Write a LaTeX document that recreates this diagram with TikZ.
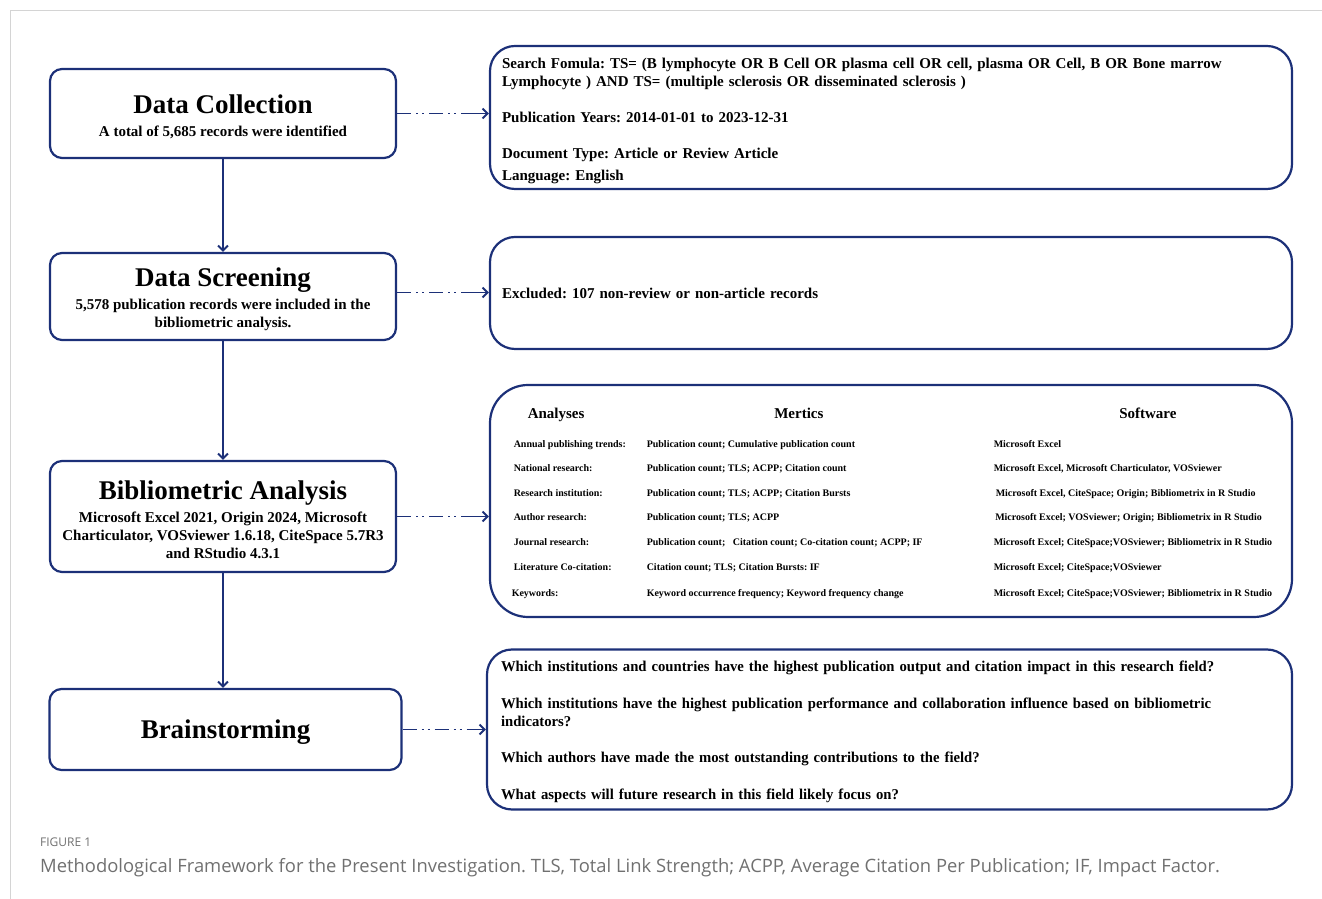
\documentclass[tikz,border=0pt]{standalone}
\usepackage{fontspec}
\usepackage{xcolor}
\usetikzlibrary{arrows.meta}
\setmainfont{Liberation Serif}
\newfontfamily\condfont{Liberation Serif}[FakeStretch=0.98]
\newfontfamily\capfont{Open Sans}
\definecolor{navy}{RGB}{28,48,120}
\definecolor{capgray}{RGB}{112,112,112}
\definecolor{framegray}{RGB}{212,212,212}
\newcommand{\stagetitle}[1]{{\fontsize{27}{28}\selectfont\rule{0pt}{24.5pt}#1}}
\frenchspacing

\begin{document}
\begin{tikzpicture}[x=1pt, y=1pt, node distance=200pt]
    % Define styles
    \tikzstyle{stage} = [rectangle, draw=navy, line width=2.2pt, rounded corners=12pt, minimum width=346pt, align=center, font=\fontsize{15}{18}\selectfont\bfseries]
    \tikzstyle{detail} = [rectangle, draw=navy, line width=2.2pt, rounded corners=25pt, minimum width=802pt, inner xsep=12pt, align=left, font=\fontsize{15}{18}\selectfont\bfseries]
    \tikzstyle{flow} = [line width=1.9pt, draw=navy, -{Straight Barb[length=5pt,width=10pt]}]
    \tikzstyle{link} = [line width=1.9pt, draw=navy, dash pattern=on 14pt off 5pt on 2pt off 4pt on 2pt off 5pt on 14pt off 5pt on 2pt off 4pt on 2pt off 5pt on 40pt off 1pt, -{Straight Barb[length=5pt,width=10pt]}]

    \useasboundingbox (0,0) rectangle (1322,899);
    \draw [framegray, line width=1pt] (10,0) -- (10,888) -- (1322,888);

    % Main flow boxes
    \node [stage, minimum height=89pt] (collect) at (223,785.5) {\stagetitle{Data Collection}\\[5pt]A total of 5,685 records were identified};
    \node [stage, minimum height=87pt, below of=collect, node distance=183pt] (screen) {\stagetitle{Data Screening}\\[5pt]5,578 publication records were included in the\\bibliometric analysis.};
    \node [stage, minimum height=111pt, below of=screen, node distance=220pt] (analysis) {\stagetitle{Bibliometric Analysis}\\[5pt]Microsoft Excel 2021, Origin 2024, Microsoft\\Charticulator, VOSviewer 1.6.18, CiteSpace 5.7R3\\and RStudio 4.3.1};
    \node [stage, minimum height=81pt, minimum width=352pt, below of=analysis, node distance=213pt, xshift=2.5pt] (brain) {\stagetitle{Brainstorming}};

    % Main flow arrows
    \draw [flow] (collect) -- (screen);
    \draw [flow] (screen) -- (analysis);
    \draw [flow] (analysis.south) -- (analysis.south |- brain.north);

    % Detail boxes on the right
    \node [detail, minimum height=143pt, text width=778pt, right of=collect, node distance=668pt, yshift=-4pt] (search) {%
        \rule{0pt}{16.5pt}Search Fomula: TS= (B lymphocyte OR B Cell OR plasma cell OR cell, plasma OR Cell, B OR Bone marrow\\
        Lymphocyte ) AND TS= (multiple sclerosis OR disseminated sclerosis )\\[18pt]
        Publication Years: 2014-01-01 to 2023-12-31\\[18pt]
        Document Type: Article or Review Article\\[4pt]
        Language: English};
    \node [detail, minimum height=112pt, text width=778pt, right of=screen, node distance=668pt, yshift=3.5pt] (exclude) {Excluded: 107 non-review or non-article records};
    \node [detail, minimum height=232pt, rounded corners=38pt, inner xsep=0pt, right of=analysis, node distance=668pt, yshift=15.5pt] (tools) {%
        \renewcommand{\arraystretch}{2.05}%
        \setlength{\tabcolsep}{0pt}%
        \fontsize{10}{12}\selectfont
        \begin{tabular}{@{\hspace{4pt}}p{133pt}p{347pt}l@{}}
        \rule{0pt}{20.2pt}\hspace*{14pt}{\fontsize{15}{18}\selectfont Analyses} & \hspace*{127.5pt}{\fontsize{15}{18}\selectfont Mertics} & \hspace*{125.5pt}{\fontsize{15}{18}\selectfont Software}\\[4pt]
        Annual publishing trends: & Publication count; Cumulative publication count & Microsoft Excel\\
        National research: & Publication count; TLS; ACPP; Citation count & Microsoft Excel, Microsoft Charticulator, VOSviewer\\
        Research institution: & Publication count; TLS; ACPP; Citation Bursts & \hspace*{2pt}Microsoft Excel, CiteSpace; Origin; Bibliometrix in R Studio\\
        Author research: & Publication count; TLS; ACPP & \hspace*{1.5pt}Microsoft Excel; VOSviewer; Origin; Bibliometrix in R Studio\\
        Journal research: & Publication count;\ \ \ Citation count; Co-citation count; ACPP; IF & Microsoft Excel; CiteSpace;VOSviewer; Bibliometrix in R Studio\\
        Literature Co-citation: & Citation count; TLS; Citation Bursts: IF & Microsoft Excel; CiteSpace;VOSviewer\\[1.5pt]
        \hspace*{-2pt}Keywords: & Keyword occurrence frequency; Keyword frequency change & Microsoft Excel; CiteSpace;VOSviewer; Bibliometrix in R Studio
        \end{tabular}};
    \node [detail, minimum height=160pt, minimum width=805pt, text width=777pt, inner xsep=14pt, right of=brain, node distance=664pt, font=\fontsize{15}{18}\selectfont\bfseries\condfont] (quest) {%
        \rule{0pt}{14.5pt}Which institutions and countries have the highest publication output and citation impact in this research field?\\[19pt]
        Which institutions have the highest publication performance and collaboration influence based on bibliometric\\
        indicators?\\[18pt]
        Which authors have made the most outstanding contributions to the field?\\[19pt]
        What aspects will future research in this field likely focus on?};

    % Side arrows
    \draw [link] (collect.east) -- (collect.east -| search.west);
    \draw [link] ([yshift=4pt]screen.east) -- ([yshift=4pt]screen.east -| exclude.west);
    \draw [link] (analysis.east) -- (analysis.east -| tools.west);
    \draw [link] (brain.east) -- (brain.east -| quest.west);

    % Caption
    \node [anchor=west, inner sep=0pt, text=capgray, font=\capfont\fontsize{12}{14}\selectfont] (figlabel) at (40,57) {FIGURE 1};
    \node [anchor=west, inner sep=0pt, text=capgray, font=\capfont\fontsize{18.4}{22}\selectfont] (figcaption) at (40,31) {Methodological Framework for the Present Investigation. TLS, Total Link Strength; ACPP, Average Citation Per Publication; IF, Impact Factor.};
\end{tikzpicture}
\end{document}
